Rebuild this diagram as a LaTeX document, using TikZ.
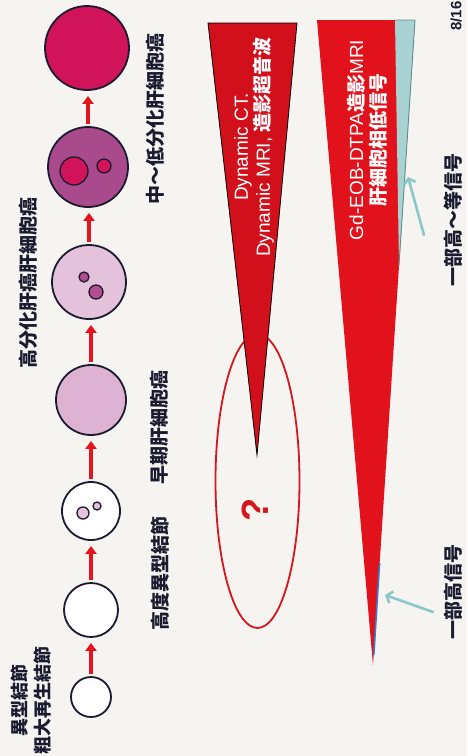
\documentclass[tikz,border=0pt]{standalone}
\usepackage{fontspec}
\setmainfont{Liberation Sans}
\newfontfamily\cjk{Noto Sans CJK JP}
\usetikzlibrary{arrows.meta,shapes.geometric}

\definecolor{paper}{HTML}{F5F4F1}
\definecolor{ink}{HTML}{1B1B30}
\definecolor{poorhcc}{HTML}{D1145A}
\definecolor{midhcc}{HTML}{A84A8C}
\definecolor{palehcc}{HTML}{E5C2DC}
\definecolor{earlyhcc}{HTML}{DDB2D2}
\definecolor{focus}{HTML}{B44D8E}
\definecolor{growred}{HTML}{E6141E}
\definecolor{dynred}{HTML}{D2101C}
\definecolor{eobred}{HTML}{E2121C}
\definecolor{sliver}{HTML}{A9D2D2}
\definecolor{sliveredge}{HTML}{5E8F90}
\definecolor{callcyan}{HTML}{8DC6C8}
\definecolor{ellred}{HTML}{D6151D}
\definecolor{hiblue}{HTML}{3A78C8}

\begin{document}
\begin{tikzpicture}[x=1pt,y=-1pt,
  stage/.style={circle, draw=ink, line width=1.8pt, inner sep=0pt},
  focusdot/.style={circle, draw=ink, line width=1.3pt, inner sep=0pt},
  progress/.style={draw=growred, line width=3.4pt, -{Triangle[length=8pt,width=11pt]},
               shorten <=2pt, shorten >=5pt},
  stagelabel/.style={rotate=90, text=ink, align=center,
               font=\cjk\bfseries\fontsize{19}{23}\selectfont},
  bandtext/.style={rotate=90, text=white, align=center,
               font=\fontsize{19}{22}\selectfont},
  callout/.style={draw=callcyan, line width=2.6pt, line cap=round,
               -{Straight Barb[length=5pt,width=12pt]}}]

\fill[paper] (0,0) rectangle (467,756);
\clip (0,0) rectangle (467,756);

% ---- progression of nodules (bottom to top) ----
\node[stage, fill=poorhcc,  minimum size=84pt] (c1) at (87,48) {};
\node[stage, fill=midhcc,   minimum size=80pt] (c2) at (88,167) {};
\node[stage, fill=palehcc,  minimum size=74pt] (c3) at (89,282) {};
\node[stage, fill=earlyhcc, minimum size=70pt] (c4) at (91,400) {};
\node[stage, fill=white,    minimum size=58pt] (c5) at (91,511) {};
\node[stage, fill=white,    minimum size=54pt] (c6) at (91,610) {};
\node[stage, fill=white,    minimum size=40pt] (c7) at (91,697) {};

% inner foci
\node[focusdot, fill=poorhcc, minimum size=28pt] (f2a) at (74,171) {};
\node[focusdot, fill=poorhcc, minimum size=14pt] (f2b) at (104,166) {};
\node[focusdot, fill=focus, minimum size=10pt] (f3a) at (84,277) {};
\node[focusdot, fill=focus, minimum size=14pt] (f3b) at (96,292) {};
\node[focusdot, fill=palehcc, minimum size=12pt] (f5a) at (83,513) {};
\node[focusdot, fill=palehcc, minimum size=8pt] (f5b) at (97,506) {};

\draw[progress] (c7.north) -- (c7.north |- c6.south);
\draw[progress] (c6.north) -- (c6.north |- c5.south);
\draw[progress] (c5.north) -- (c5.north |- c4.south);
\draw[progress] (c4.north) -- (c4.north |- c3.south);
\draw[progress] (c3.north) -- (c3.north |- c2.south);
\draw[progress] (c2.north) -- (c2.north |- c1.south);

% stage labels
\node[stagelabel, font=\cjk\bfseries\fontsize{18}{23}\selectfont]
  (l7) at (31,700) {異型結節\\粗大再生結節};
\node[stagelabel] (l5) at (160,573) {高度異型結節};
\node[stagelabel] (l4) at (159,427) {早期肝細胞癌};
\node[stagelabel] (l3) at (28,283) {高分化肝癌肝細胞癌};
\node[stagelabel] (l1) at (155,119) {中～低分化肝細胞癌};

% ---- dynamic study band ----
\node[ellipse, draw=ellred, line width=1.8pt, minimum width=84pt,
      minimum height=294pt, inner sep=0pt] (unknown) at (257.5,481) {};
\filldraw[fill=dynred, draw=black, line width=0.8pt]
  (208,23) -- (297,23) -- (257,455) -- cycle;
\node[bandtext] (dyn) at (254,147)
  {Dynamic CT.\\Dynamic MRI, {\cjk\bfseries 造影超音波}};
\node[rotate=90, text=ellred, font=\bfseries\fontsize{38}{38}\selectfont]
  (qmark) at (255,510) {?};

% ---- EOB-MRI band ----
\fill[eobred] (317,20) -- (415,20) -- (373,665) -- cycle;
\fill[sliver] (395,20) -- (415,20) -- (399,265) -- cycle;
\draw[sliveredge, line width=0.9pt, line join=round]
  (395,20) -- (415,20) -- (399,265);
\draw[hiblue, line width=1.6pt] (379.6,563) -- (373.8,655);
\node[bandtext] (eob) at (367,140)
  {Gd-EOB-DTPA{\cjk\bfseries 造影}MRI\\{\cjk\bfseries 肝細胞相低信号}};

% callouts
\node[stagelabel] (isoA) at (453,220) {一部高～等信号};
\node[stagelabel] (hiB) at (453,592) {一部高信号};
\coordinate (tailA) at (424,235);
\coordinate (headA) at (408,177);
\coordinate (tailB) at (433,612);
\coordinate (headB) at (385,595);
\draw[callout] (tailA) -- (headA);
\draw[callout] (tailB) -- (headB);

% page number
\node[rotate=90, text=ink, font=\bfseries\fontsize{15}{15}\selectfont]
  (page) at (456,16) {8/16};
\end{tikzpicture}
\end{document}
